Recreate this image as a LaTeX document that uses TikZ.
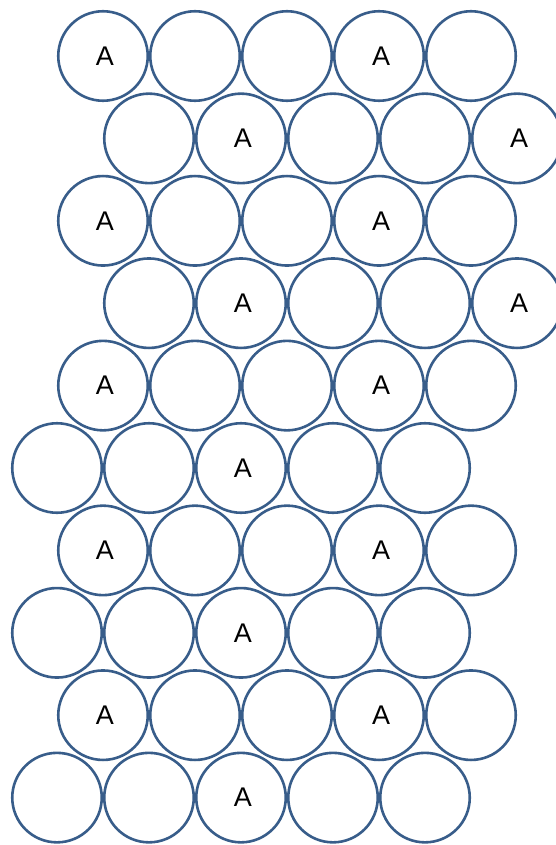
\documentclass[tikz,border=0pt]{standalone}
\usepackage{fontspec}
\setmainfont{Liberation Sans}
\definecolor{ringblue}{RGB}{56,93,138}
\begin{document}
\begin{tikzpicture}[x=1pt,y=-1pt,
  ball/.style={circle,draw=ringblue,line width=2.6pt,fill=white,minimum size=89.5pt,inner sep=0pt,
    font=\fontsize{27}{30}\selectfont},
]
\useasboundingbox (0,0) rectangle (555,845);
% row types: a = 103+92k with A at k=0,3; b = 149+92k with A at k=1,4; c = 57+92k with A at k=2
\foreach \r/\t in {1/a,2/b,3/a,4/b,5/a,6/c,7/a,8/c,9/a,10/c}{
  \pgfmathsetmacro{\yy}{56+82.4*(\r-1)}
  \foreach \k in {0,...,4}{
    \if\t a
      \pgfmathsetmacro{\xx}{103+92*\k}
      \ifnum\k=0 \def\lab{A}\else\ifnum\k=3 \def\lab{A}\else\def\lab{}\fi\fi
    \fi
    \if\t b
      \pgfmathsetmacro{\xx}{149+92*\k}
      \ifnum\k=1 \def\lab{A}\else\ifnum\k=4 \def\lab{A}\else\def\lab{}\fi\fi
    \fi
    \if\t c
      \pgfmathsetmacro{\xx}{57+92*\k}
      \ifnum\k=2 \def\lab{A}\else\def\lab{}\fi
    \fi
    \node[ball] (b\r-\k) at (\xx,\yy) {\hspace*{4pt}\lab};
  }
}
\end{tikzpicture}
\end{document}
